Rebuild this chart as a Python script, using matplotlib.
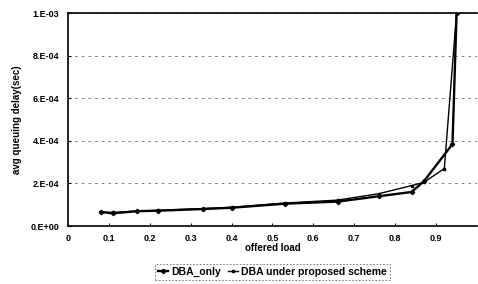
import matplotlib
matplotlib.use("Agg")
import matplotlib.pyplot as plt

plt.rcParams['font.family'] = ['Liberation Sans', 'DejaVu Sans']

load_a = [0.08, 0.11, 0.17, 0.22, 0.33, 0.40, 0.53, 0.66, 0.76, 0.84, 0.87, 0.94, 0.95]
delay_a = [6.6e-5, 6.0e-5, 7.0e-5, 7.2e-5, 8.0e-5, 8.6e-5, 1.05e-4, 1.15e-4, 1.40e-4, 1.60e-4, 2.10e-4, 3.85e-4, 1.0e-3]
load_b = [0.08, 0.11, 0.17, 0.22, 0.33, 0.40, 0.53, 0.66, 0.76, 0.84, 0.87, 0.92, 0.95]
delay_b = [6.5e-5, 6.4e-5, 7.0e-5, 7.4e-5, 8.2e-5, 8.8e-5, 1.08e-4, 1.22e-4, 1.52e-4, 1.90e-4, 2.05e-4, 2.70e-4, 1.0e-3]

x_ticks = [0, 0.1, 0.2, 0.3, 0.4, 0.5, 0.6, 0.7, 0.8, 0.9]
x_labels = ['0', '0.1', '0.2', '0.3', '0.4', '0.5', '0.6', '0.7', '0.8', '0.9']
y_ticks = [0, 2e-4, 4e-4, 6e-4, 8e-4, 1e-3]
y_labels = ['0.E+00', '2.E-04', '4.E-04', '6.E-04', '8.E-04', '1.E-03']

fig = plt.figure(figsize=(4.78, 2.84), dpi=100)
ax = fig.add_axes([0.142, 0.204, 0.856, 0.750])

for yv in y_ticks[1:]:
    ax.axhline(yv, color='#666666', lw=0.6, ls=(0, (3, 5)), zorder=0)

ax.plot(load_a, delay_a, color='black', lw=1.7, marker='D', ms=2.2, label='DBA_only', zorder=3)
ax.plot(load_b, delay_b, color='black', lw=1.0, marker='s', ms=1.5, label='DBA under proposed scheme', zorder=3)

ax.set_xlim(0, 1)
ax.set_ylim(0, 1e-3)
ax.set_xticks(x_ticks)
ax.set_xticklabels(x_labels, fontsize=6.5, fontweight='bold')
ax.set_yticks(y_ticks)
ax.set_yticklabels(y_labels, fontsize=6.5, fontweight='bold')
ax.tick_params(axis='both', length=2, width=0.8, direction='in', pad=6)
for s in ax.spines.values():
    s.set_linewidth(1.2)
ax.spines['right'].set_visible(False)

ax.set_xlabel('offered load', fontsize=7, fontweight='bold', labelpad=0)
ax.set_ylabel('avg queuing delay(sec)', fontsize=7, fontweight='bold', labelpad=6)

leg = fig.legend(loc='center', bbox_to_anchor=(0.57, 0.042), ncol=2, fontsize=7.5,
                 frameon=True, fancybox=False, handlelength=1.0, columnspacing=0.6,
                 handletextpad=0.3, borderpad=0.3)
leg.get_frame().set_edgecolor('#444444')
leg.get_frame().set_linestyle((0, (2, 2)))
leg.get_frame().set_linewidth(0.6)
for t in leg.get_texts():
    t.set_fontweight('bold')

fig.savefig('out.png', dpi=100)
